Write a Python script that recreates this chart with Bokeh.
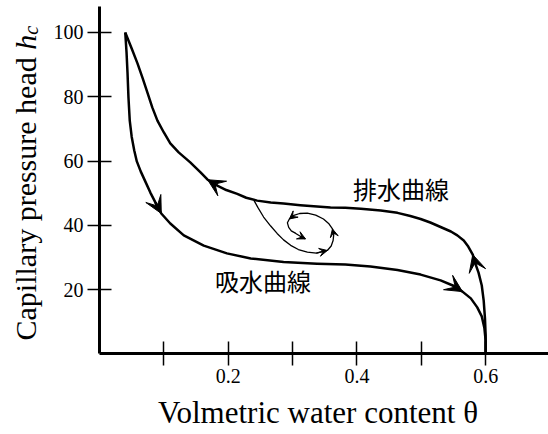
import numpy as np
from bokeh.plotting import figure
from bokeh.models import Arrow, VeeHead, Label, FixedTicker, Range1d
from bokeh.embed import file_html
from bokeh.resources import INLINE

# ---- data ----
drying_theta = [0.600, 0.600, 0.599, 0.597, 0.594, 0.589, 0.584, 0.580, 0.573, 0.566,
                0.556, 0.546, 0.530, 0.514, 0.499, 0.483, 0.463, 0.437, 0.406, 0.382,
                0.359, 0.338, 0.312, 0.286, 0.266, 0.245, 0.228, 0.214, 0.197, 0.183,
                0.168, 0.157, 0.141, 0.123, 0.110, 0.100, 0.090, 0.082, 0.075, 0.067,
                0.059, 0.050, 0.040]
drying_h = [0.0, 5.8, 11.0, 16.6, 21.3, 25.3, 28.1, 30.9, 33.4, 35.3,
            36.9, 38.1, 39.5, 40.9, 42.0, 42.9, 43.9, 44.6, 45.2, 45.5,
            45.6, 45.9, 46.3, 46.8, 47.1, 47.7, 48.6, 49.8, 51.0, 52.4,
            54.2, 56.5, 59.6, 62.7, 65.5, 68.9, 72.6, 76.7, 81.0, 85.8,
            90.4, 95.0, 100.0]

wetting_theta = [0.040, 0.042, 0.0435, 0.045, 0.047, 0.050, 0.054, 0.058, 0.064, 0.072,
                 0.079, 0.087, 0.096, 0.110, 0.131, 0.162, 0.198, 0.235, 0.286, 0.338,
                 0.382, 0.421, 0.463, 0.499, 0.530, 0.549, 0.564, 0.577, 0.587, 0.594,
                 0.598, 0.600, 0.600]
wetting_h = [100.0, 93.8, 87.6, 79.8, 72.6, 67.6, 63.3, 59.9, 56.8, 53.3,
             50.2, 47.1, 43.7, 40.6, 36.9, 33.7, 31.3, 29.7, 28.6, 28.1,
             27.8, 27.2, 26.1, 24.7, 22.9, 21.3, 19.4, 17.3, 14.5, 11.7,
             8.2, 4.2, 0.0]

spiral_theta = [0.240, 0.246, 0.255, 0.266, 0.276, 0.286, 0.297, 0.309, 0.323, 0.337,
                0.354, 0.360, 0.363, 0.364, 0.362, 0.356, 0.348, 0.336, 0.323, 0.311,
                0.302, 0.295, 0.292, 0.294, 0.298, 0.305, 0.312, 0.320]
spiral_h = [47.8, 45.6, 42.6, 39.8, 37.5, 35.5, 33.8, 32.5, 31.7, 31.4,
            32.2, 33.6, 35.3, 37.2, 38.9, 40.6, 42.0, 43.2, 43.8, 43.7,
            43.1, 42.0, 40.8, 39.4, 38.3, 37.5, 36.6, 35.8]

drying_arrow_idx = [7, 30]
wetting_arrow_idx = [12, 26]
spiral_arrow_idx = [10, 14, 21, 27]

x_major_ticks = [0.2, 0.4, 0.6]
x_minor_ticks = [0.1, 0.3, 0.5]
y_ticks = [20, 40, 60, 80, 100]

x_title = "Volmetric water content θ"
y_title = "Capillary pressure head"
y_title_sym = "h"
y_title_sub = "c"
drying_label = "排水曲線"
wetting_label = "吸水曲線"

SERIF = "Liberation Serif"
CJK = "Noto Sans CJK JP"

X_LO, X_HI = -0.15385, 0.6977
Y_LO, Y_HI = -25.04, 109.95
Y_AXIS_TOP = 108.1

p = figure(width=548, height=434, output_backend="svg", toolbar_location=None,
           x_range=Range1d(X_LO, X_HI), y_range=Range1d(Y_LO, Y_HI),
           min_border=0)
p.grid.visible = False
p.outline_line_color = None
p.background_fill_color = "white"
p.border_fill_color = "white"

for ax in (p.xaxis[0], p.yaxis[0]):
    ax.fixed_location = 0
    ax.axis_line_width = 3
    ax.axis_line_color = "black"
    ax.major_tick_in = 12
    ax.major_tick_out = 12
    ax.major_tick_line_width = 1.5
    ax.major_tick_line_color = "black"
    ax.major_label_text_font = SERIF
    ax.major_label_text_font_size = "20px"
    ax.major_label_text_color = "black"

p.xaxis[0].bounds = (0, X_HI)
p.xaxis[0].ticker = FixedTicker(ticks=x_major_ticks, minor_ticks=x_minor_ticks)
p.xaxis[0].minor_tick_in = 12
p.xaxis[0].minor_tick_out = 12
p.xaxis[0].minor_tick_line_width = 1.5
p.xaxis[0].minor_tick_line_color = "black"
p.xaxis[0].major_label_standoff = 3

p.yaxis[0].bounds = (0, Y_AXIS_TOP)
p.yaxis[0].ticker = FixedTicker(ticks=y_ticks)
p.yaxis[0].minor_tick_line_color = None
p.yaxis[0].major_label_standoff = 4

# curves
p.line(drying_theta, drying_h, line_width=2.5, line_color="black", line_join="round")
p.line(wetting_theta, wetting_h, line_width=2.5, line_color="black", line_join="round")
p.line(spiral_theta, spiral_h, line_width=1.3, line_color="black", line_join="round")


def add_arrows(xs, ys, idxs, size, lw):
    for i in idxs:
        p.add_layout(Arrow(end=VeeHead(size=size, fill_color="black", line_color="black",
                                       line_width=1),
                           x_start=xs[i - 1], y_start=ys[i - 1], x_end=xs[i], y_end=ys[i],
                           line_width=lw, line_color="black"))


add_arrows(drying_theta, drying_h, drying_arrow_idx, 17, 2.5)
add_arrows(wetting_theta, wetting_h, wetting_arrow_idx, 17, 2.5)
add_arrows(spiral_theta, spiral_h, spiral_arrow_idx, 8, 1.3)

# curve names
p.add_layout(Label(x=0.4685, y=51.6, text=drying_label, text_font=CJK,
                   text_font_size="24px", text_align="center", text_baseline="middle",
                   text_color="black"))
p.add_layout(Label(x=0.254, y=22.9, text=wetting_label, text_font=CJK,
                   text_font_size="24px", text_align="center", text_baseline="middle",
                   text_color="black"))

# axis titles
p.add_layout(Label(x=0.3396, y=-18.2, text=x_title, text_font=SERIF,
                   text_font_size="31px", text_align="center", text_baseline="middle",
                   text_color="black"))
p.add_layout(Label(x=-0.115, y=4.2, text=y_title, text_font=SERIF, angle=np.pi / 2,
                   text_font_size="30px", text_align="left", text_baseline="middle",
                   text_color="black"))
p.add_layout(Label(x=-0.115, y=94.65, text=y_title_sym, text_font=SERIF, angle=np.pi / 2,
                   text_font_size="30px", text_font_style="italic", text_align="left",
                   text_baseline="middle", text_color="black"))
p.add_layout(Label(x=-0.1057, y=99.3, text=y_title_sub, text_font=SERIF, angle=np.pi / 2,
                   text_font_size="20px", text_font_style="italic", text_align="left",
                   text_baseline="middle", text_color="black"))

open("out.html", "w").write(file_html(p, INLINE))
